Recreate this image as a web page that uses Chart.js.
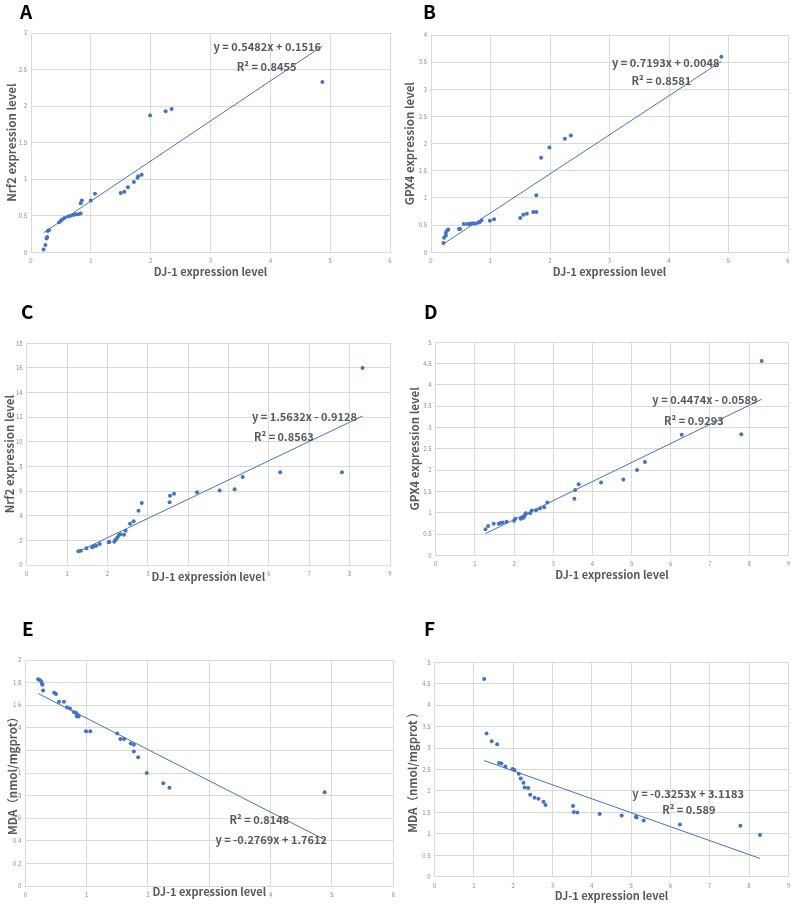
<!DOCTYPE html>
<html>
<head>
<meta charset="utf-8">
<script src="https://cdn.jsdelivr.net/npm/chart.js@4/dist/chart.umd.min.js"></script>
<style>
  body { margin: 0; background: #fff; }
  #wrap { position: relative; width: 798px; height: 908px; overflow: hidden; }
  canvas { position: absolute; }
  .tag { position: absolute; font: bold 19px "Noto Sans CJK SC", sans-serif; line-height: 1; color: #000; }
</style>
</head>
<body>
<div id="wrap">
  <canvas id="cA" width="400" height="285" style="left:0;top:0"></canvas>
  <canvas id="cB" width="398" height="285" style="left:400px;top:0"></canvas>
  <canvas id="cC" width="400" height="310" style="left:0;top:285px"></canvas>
  <canvas id="cD" width="398" height="310" style="left:400px;top:285px"></canvas>
  <canvas id="cE" width="400" height="313" style="left:0;top:595px"></canvas>
  <canvas id="cF" width="398" height="313" style="left:400px;top:595px"></canvas>
  <div class="tag" style="left:20px;top:1px">A</div>
  <div class="tag" style="left:423px;top:1px">B</div>
  <div class="tag" style="left:21px;top:301px">C</div>
  <div class="tag" style="left:424px;top:301px">D</div>
  <div class="tag" style="left:22px;top:618px">E</div>
  <div class="tag" style="left:424px;top:618px">F</div>
</div>
<script>
// DJ-1 vs Nrf2 (first sample set)
const xA = [0.21, 0.24, 0.26, 0.27, 0.28, 0.30, 0.47, 0.50, 0.52, 0.56, 0.62, 0.66, 0.71, 0.74, 0.79, 0.83, 0.83, 0.85, 1.00, 1.07, 1.50, 1.56, 1.62, 1.72, 1.78, 1.79, 1.85, 1.99, 2.25, 2.35, 4.87];
const yA = [0.04, 0.10, 0.19, 0.21, 0.29, 0.30, 0.41, 0.43, 0.45, 0.47, 0.49, 0.50, 0.51, 0.52, 0.52, 0.53, 0.67, 0.71, 0.71, 0.80, 0.81, 0.83, 0.89, 0.96, 1.02, 1.04, 1.06, 1.87, 1.93, 1.96, 2.33];

// DJ-1 vs GPX4
const xB = [0.21, 0.22, 0.25, 0.25, 0.27, 0.29, 0.47, 0.49, 0.55, 0.61, 0.65, 0.68, 0.71, 0.75, 0.80, 0.82, 0.85, 0.99, 1.06, 1.50, 1.55, 1.61, 1.72, 1.77, 1.77, 1.85, 1.99, 2.25, 2.35, 4.88];
const yB = [0.17, 0.27, 0.31, 0.36, 0.40, 0.42, 0.43, 0.43, 0.52, 0.52, 0.52, 0.53, 0.53, 0.53, 0.55, 0.56, 0.59, 0.58, 0.61, 0.63, 0.69, 0.71, 0.74, 0.74, 1.05, 1.74, 1.93, 2.09, 2.15, 3.60];

// second sample set
const xC = [1.28, 1.34, 1.48, 1.62, 1.66, 1.72, 1.81, 2.03, 2.05, 2.17, 2.19, 2.22, 2.25, 2.29, 2.32, 2.41, 2.45, 2.56, 2.65, 2.77, 2.85, 3.54, 3.55, 3.65, 4.22, 4.78, 5.15, 5.35, 6.28, 7.81, 8.32];
const yC = [1.12, 1.16, 1.37, 1.44, 1.53, 1.57, 1.71, 1.84, 1.87, 1.89, 2.00, 2.11, 2.26, 2.44, 2.49, 2.45, 2.79, 3.34, 3.56, 4.40, 5.04, 5.09, 5.62, 5.78, 5.91, 6.04, 6.15, 7.15, 7.53, 7.53, 16.0];

const xD = [1.27, 1.34, 1.48, 1.61, 1.66, 1.71, 1.81, 2.00, 2.03, 2.17, 2.20, 2.24, 2.26, 2.29, 2.30, 2.41, 2.45, 2.56, 2.66, 2.77, 2.85, 3.54, 3.56, 3.65, 4.22, 4.79, 5.14, 5.34, 6.28, 7.80, 8.32];
const yD = [0.61, 0.69, 0.74, 0.74, 0.76, 0.77, 0.79, 0.81, 0.86, 0.86, 0.88, 0.88, 0.92, 0.96, 0.99, 0.99, 1.05, 1.06, 1.10, 1.13, 1.24, 1.33, 1.53, 1.67, 1.71, 1.78, 2.00, 2.19, 2.83, 2.84, 4.56];

// MDA
const xE = [0.21, 0.24, 0.26, 0.27, 0.28, 0.29, 0.47, 0.50, 0.55, 0.63, 0.68, 0.73, 0.79, 0.83, 0.84, 0.86, 0.84, 0.87, 0.99, 1.06, 1.50, 1.55, 1.61, 1.72, 1.77, 1.77, 1.84, 1.98, 2.25, 2.35, 4.88];
const yE = [1.83, 1.82, 1.81, 1.79, 1.78, 1.73, 1.71, 1.70, 1.63, 1.63, 1.58, 1.57, 1.54, 1.53, 1.52, 1.51, 1.50, 1.50, 1.37, 1.37, 1.35, 1.30, 1.30, 1.26, 1.25, 1.19, 1.14, 1.00, 0.91, 0.87, 0.83];

const xF = [1.26, 1.32, 1.45, 1.59, 1.64, 1.70, 1.80, 1.98, 2.03, 2.14, 2.19, 2.26, 2.29, 2.38, 2.43, 2.54, 2.64, 2.77, 2.82, 3.52, 3.54, 3.63, 4.20, 4.76, 5.12, 5.14, 5.32, 6.24, 7.78, 8.28];
const yF = [4.61, 3.34, 3.16, 3.09, 2.65, 2.64, 2.57, 2.51, 2.49, 2.40, 2.29, 2.19, 2.08, 2.07, 1.91, 1.84, 1.82, 1.75, 1.67, 1.65, 1.51, 1.50, 1.46, 1.43, 1.40, 1.38, 1.31, 1.22, 1.19, 0.97];

// trendlines: [slope, intercept]
const fitA = [0.5482, 0.1516];
const fitB = [0.7193, 0.0048];
const fitC = [1.5632, -0.9128];
const fitD = [0.4474, -0.0589];
const fitE = [-0.2769, 1.7612];
const fitF = [-0.3253, 3.1183];

const blue = '#4472c4';
const gridCol = '#d9d9d9';
const textCol = '#595959';
const font = '"Noto Sans CJK SC", "Noto Sans", sans-serif';

// equation labels drawn at data positions
Chart.register({
  id: 'eqText',
  afterDatasetsDraw(chart, args, opts) {
    const { ctx, scales: { x, y } } = chart;
    ctx.save();
    ctx.font = 'bold 11px ' + font;
    ctx.fillStyle = textCol;
    ctx.textBaseline = 'middle';
    (opts.lines || []).forEach(l => {
      ctx.fillText(l.text, x.getPixelForValue(l.x), y.getPixelForValue(l.y));
    });
    ctx.restore();
  }
});

function fmt(v) { return String(Math.round(v * 100) / 100); }

function panel(id, xs, ys, fit, p) {
  const pts = xs.map((x, i) => ({ x: x, y: ys[i] }));
  const x0 = Math.min(...xs), x1 = Math.max(...xs);
  const line = [{ x: x0, y: fit[0] * x0 + fit[1] }, { x: x1, y: fit[0] * x1 + fit[1] }];
  new Chart(document.getElementById(id), {
    type: 'scatter',
    data: {
      datasets: [
        { data: pts, pointRadius: 2, pointBorderWidth: 0, backgroundColor: blue, borderColor: blue },
        { type: 'line', data: line, borderColor: blue, borderWidth: 1, pointRadius: 0, fill: false }
      ]
    },
    options: {
      responsive: false,
      animation: false,
      layout: { padding: { top: p.pt, right: p.pr, left: 0, bottom: 0 } },
      plugins: {
        legend: { display: false },
        tooltip: { enabled: false },
        eqText: { lines: p.lines }
      },
      scales: {
        x: {
          type: 'linear', min: 0, max: p.xmax,
          ticks: { stepSize: 1, font: { size: 6, family: font }, color: '#8c8c8c', padding: 5, callback: fmt },
          grid: { color: gridCol, drawTicks: false },
          border: { color: gridCol },
          title: { display: true, text: 'DJ-1 expression level', color: textCol,
                   font: { size: 11, weight: 'bold', family: font }, padding: { top: 0, bottom: p.xtp } },
          afterFit: s => { s.height = p.xh; }
        },
        y: {
          type: 'linear', min: 0, max: p.ymax,
          ticks: { stepSize: p.ystep, font: { size: 6, family: font }, color: '#8c8c8c', padding: 4, callback: fmt },
          grid: { color: gridCol, drawTicks: false },
          border: { color: gridCol },
          title: { display: true, text: p.ytitle, color: textCol,
                   font: { size: 11.5, weight: 'bold', family: font }, padding: { top: p.ytp, bottom: 0 } },
          afterFit: s => { s.width = p.yw; }
        }
      }
    }
  });
}

panel('cA', xA, yA, fitA, {
  pt: 33, pr: 10, xh: 32.7, yw: 31, xtp: 6.2, ytp: 5, xmax: 6, ymax: 3, ystep: 0.5,
  ytitle: 'Nrf2 expression level',
  lines: [{ text: 'y = 0.5482x + 0.1516', x: 3.05, y: 2.81 }, { text: 'R² = 0.8455', x: 3.44, y: 2.54 }]
});
panel('cB', xB, yB, fitB, {
  pt: 35, pr: 10, xh: 32.7, yw: 31, xtp: 6.2, ytp: 3, xmax: 6, ymax: 4, ystep: 0.5,
  ytitle: 'GPX4 expression level',
  lines: [{ text: 'y = 0.7193x + 0.0048', x: 3.04, y: 3.49 }, { text: 'R² = 0.8581', x: 3.37, y: 3.15 }]
});
panel('cC', xC, yC, fitC, {
  pt: 58.3, pr: 10, xh: 30, yw: 26.7, xtp: 11.2, ytp: 2.7, xmax: 9, ymax: 18, ystep: 2,
  ytitle: 'Nrf2 expression level',
  lines: [{ text: 'y = 1.5632x - 0.9128', x: 5.58, y: 12.05 }, { text: 'R² = 0.8563', x: 5.63, y: 10.42 }]
});
panel('cD', xD, yD, fitD, {
  pt: 57.3, pr: 9.7, xh: 39.7, yw: 35.7, xtp: 13.2, ytp: 8, xmax: 9, ymax: 5, ystep: 0.5,
  ytitle: 'GPX4 expression level',
  lines: [{ text: 'y = 0.4474x - 0.0589', x: 5.53, y: 3.66 }, { text: 'R² = 0.9293', x: 5.83, y: 3.16 }]
});
panel('cE', xE, yE, fitE, {
  pt: 65, pr: 1.7, xh: 22, yw: 25.3, xtp: 9.2, ytp: 6, xmax: 6, ymax: 2, ystep: 0.2,
  ytitle: 'MDA（nmol/mgprot）',
  lines: [{ text: 'R² = 0.8148', x: 3.33, y: 0.59 }, { text: 'y = -0.2769x + 1.7612', x: 3.10, y: 0.41 }]
});
panel('cF', xF, yF, fitF, {
  pt: 67.3, pr: 9.7, xh: 31.3, yw: 34.7, xtp: 5.5, ytp: 6, xmax: 9, ymax: 5, ystep: 0.5,
  ytitle: 'MDA（nmol/mgprot ）',
  lines: [{ text: 'y = -0.3253x + 3.1183', x: 5.03, y: 1.94 }, { text: 'R² = 0.589', x: 5.79, y: 1.56 }]
});
</script>
</body>
</html>
